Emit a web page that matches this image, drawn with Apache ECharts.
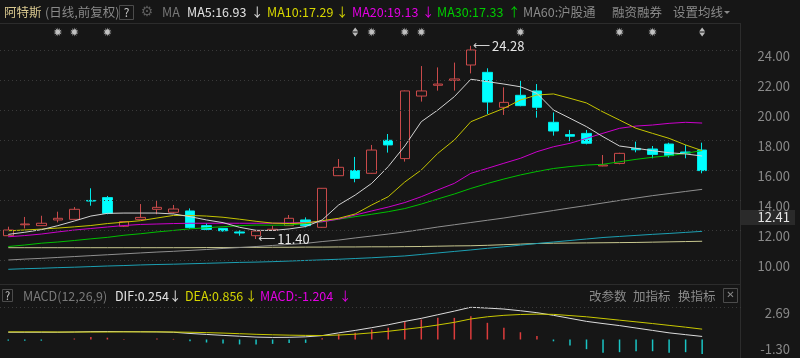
<!DOCTYPE html>
<html>
<head>
<meta charset="utf-8">
<script src="https://cdn.jsdelivr.net/npm/echarts@6/dist/echarts.min.js"></script>
<style>
html,body{margin:0;padding:0;background:#161616;}
#c{width:800px;height:358px;}
</style>
</head>
<body>
<div id="c"></div>
<script>
// ---------- data ----------
const days = ['1','2','3','4','5','6','7','8','9','10','11','12','13','14','15','16','17','18','19','20',
  '21','22','23','24','25','26','27','28','29','30','31','32','33','34','35','36','37','38','39','40',
  '41','42','43','44','45'];

// [open, close, low, high]
const candles = [
  [11.62,12.00,11.58,12.22],[12.35,12.40,12.10,12.87],[12.29,12.45,12.27,12.95],[12.67,12.78,12.51,13.22],
  [12.71,13.38,12.68,13.53],[13.97,13.93,13.62,14.78],[14.16,13.11,13.05,14.27],[12.25,12.56,12.20,12.58],
  [12.71,12.84,12.69,13.73],[13.38,13.51,13.05,14.00],[13.18,13.40,13.10,13.67],[13.27,12.16,12.07,13.44],
  [12.29,12.04,11.98,12.44],[12.11,11.95,11.89,12.13],[11.87,11.80,11.62,11.98],[11.62,11.93,11.40,11.95],
  [11.97,12.05,11.93,12.29],[12.29,12.78,12.27,13.00],[12.67,12.29,12.18,12.84],[12.18,14.78,12.15,14.80],
  [15.62,16.18,15.60,16.73],[15.96,15.44,15.18,16.87],[15.78,17.33,15.75,17.67],[17.98,17.67,17.16,18.40],
  [16.76,21.27,16.56,21.30],[20.93,21.27,20.56,22.93],[21.65,21.73,21.29,22.84],[21.98,22.07,21.29,23.16],
  [23.00,24.00,22.44,24.28],[22.51,20.53,19.73,22.78],[20.18,20.51,19.67,21.51],[20.98,20.29,20.25,22.00],
  [21.27,20.18,19.49,21.73],[19.18,18.60,18.29,19.84],[18.36,18.25,17.93,18.67],[18.44,17.78,17.71,18.67],
  [16.27,16.33,16.25,17.00],[16.44,17.11,16.38,17.15],[17.44,17.35,17.18,17.89],[17.40,17.04,16.78,17.60],
  [17.73,16.96,16.84,17.82],[17.20,17.13,16.78,17.67],[17.33,15.96,15.78,17.82]
];

const ma5 = [11.71,11.85,12.02,12.29,12.60,12.93,13.11,13.13,13.13,13.13,13.07,12.89,12.67,12.49,12.18,11.98,
  11.97,12.07,12.23,12.67,13.67,14.33,15.11,16.23,17.60,19.22,20.00,20.89,22.05,21.89,21.73,21.55,21.11,20.00,
  19.45,18.89,18.22,17.60,17.45,17.29,17.15,17.07,16.93];
const ma10 = [11.95,12.00,12.06,12.13,12.21,12.30,12.43,12.52,12.62,12.80,12.97,12.97,12.93,12.85,12.72,12.58,
  12.46,12.43,12.47,12.62,12.78,13.07,13.67,14.22,15.20,16.00,17.11,18.00,19.22,19.67,20.11,20.67,21.00,21.07,
  20.78,20.47,19.87,19.33,18.78,18.44,18.11,17.67,17.29];
const ma20 = [11.55,11.63,11.73,11.87,12.00,12.10,12.20,12.30,12.37,12.40,12.43,12.45,12.45,12.45,12.45,12.45,
  12.45,12.47,12.50,12.55,12.73,13.00,13.27,13.53,13.83,14.22,14.67,15.11,15.78,16.11,16.45,16.78,17.22,17.55,
  17.78,18.11,18.45,18.78,18.93,19.00,19.11,19.18,19.13];
const ma30 = [10.90,11.00,11.12,11.20,11.30,11.41,11.51,11.65,11.75,11.87,11.97,12.08,12.15,12.22,12.29,12.33,
  12.32,12.33,12.43,12.55,12.72,12.89,13.05,13.22,13.43,13.73,14.07,14.40,14.77,15.10,15.40,15.67,15.90,16.10,
  16.23,16.33,16.38,16.55,16.71,16.85,16.95,17.11,17.30];
const ma60 = [10.00,10.06,10.11,10.17,10.23,10.29,10.35,10.41,10.47,10.53,10.58,10.64,10.70,10.77,10.83,10.90,
  10.97,11.04,11.11,11.23,11.33,11.47,11.60,11.73,11.87,12.03,12.20,12.35,12.50,12.65,12.80,12.97,13.13,13.30,
  13.47,13.63,13.80,13.97,14.13,14.29,14.43,14.57,14.71];
const ma120 = [9.38,9.42,9.45,9.49,9.52,9.56,9.60,9.63,9.67,9.70,9.72,9.75,9.78,9.81,9.84,9.86,9.89,9.93,9.97,
  10.01,10.05,10.10,10.15,10.21,10.27,10.37,10.47,10.57,10.67,10.78,10.88,10.99,11.10,11.20,11.30,11.40,11.50,
  11.57,11.64,11.71,11.77,11.84,11.91];
const ma250 = [10.82,10.82,10.82,10.82,10.82,10.82,10.82,10.82,10.82,10.82,10.82,10.82,10.83,10.83,10.84,10.84,
  10.85,10.85,10.86,10.86,10.87,10.87,10.88,10.88,10.89,10.90,10.92,10.94,10.95,10.98,11.02,11.06,11.10,11.12,
  11.13,11.14,11.15,11.16,11.17,11.19,11.21,11.23,11.25];

const dif = [0.60,0.60,0.60,0.60,0.62,0.65,0.66,0.65,0.64,0.63,0.60,0.50,0.42,0.34,0.27,0.20,0.17,0.18,0.22,0.32,
  0.55,0.75,0.98,1.22,1.50,1.75,2.05,2.35,2.67,2.60,2.52,2.38,2.22,2.00,1.75,1.50,1.32,1.15,0.95,0.75,0.55,0.40,0.254];
const dea = [0.63,0.63,0.63,0.62,0.62,0.62,0.62,0.63,0.63,0.63,0.62,0.60,0.57,0.53,0.48,0.43,0.39,0.36,0.34,0.33,
  0.37,0.44,0.55,0.68,0.84,1.00,1.20,1.42,1.70,1.88,2.00,2.07,2.10,2.08,1.98,1.88,1.74,1.60,1.46,1.32,1.17,1.02,0.856];
const macd = [-0.10,-0.10,-0.10,0.00,0.08,0.20,0.15,0.05,0.00,0.08,0.05,-0.15,-0.25,-0.33,-0.41,-0.41,-0.36,-0.28,
  -0.28,0.10,0.45,0.55,0.83,0.97,1.50,1.66,1.79,1.79,1.93,1.38,0.97,0.60,0.28,-0.15,-0.50,-0.80,-1.10,-1.05,-0.97,
  -0.97,-1.10,-1.05,-1.204];

const priceTicks = [10, 12, 14, 16, 18, 20, 22, 24];
const macdTicks = [2.69, -1.30];
const starDays = [3, 4, 6, 22, 24, 25, 31, 37, 39];
const arrowDays = [21, 42];
const cursorLabel = '12.41';

const headerParts = [
  ['阿特斯', 4, '#d8c78e'],
  ['(日线,前复权)', 45, '#8a8a8a'],
  ['MA', 162, '#767676'],
  ['MA5:16.93', 187, '#e2e2e2'], ['↓', 251, '#e2e2e2'],
  ['MA10:17.29', 267, '#d6d600'], ['↓', 336, '#d6d600'],
  ['MA20:19.13', 352, '#e200e2'], ['↓', 422, '#e200e2'],
  ['MA30:17.33', 437, '#00cc00'], ['↑', 508, '#00cc00'],
  ['MA60:沪股通', 523, '#8a8a8a'],
  ['融资融券', 612, '#8a8a8a'],
  ['设置均线', 673, '#8a8a8a']
];
const macdHeaderParts = [
  ['MACD(12,26,9)', 23, '#7a7a7a'],
  ['DIF:0.254', 115, '#e2e2e2'], ['↓', 169, '#e2e2e2'],
  ['DEA:0.856', 185, '#d6d600'], ['↓', 245, '#d6d600'],
  ['MACD:-1.204', 260, '#e200e2'], ['↓', 339, '#e200e2'],
  ['改参数', 589, '#8a8a8a'], ['加指标', 633, '#8a8a8a'], ['换指标', 678, '#8a8a8a']
];

// ---------- styling helpers ----------
const FONT = '"Noto Sans CJK SC", "Noto Sans", sans-serif';
const markerLevel = 25.2;

function starPath() {
  let d = '';
  for (let k = 0; k < 24; k++) {
    const a = k * Math.PI / 12;
    const r = (k % 2 === 0) ? 10 : 4.8;
    const x = (10 + r * Math.cos(a)).toFixed(2), y = (10 + r * Math.sin(a)).toFixed(2);
    d += (k === 0 ? 'M' : 'L') + x + ',' + y + ' ';
  }
  return 'path://' + d + 'Z';
}
const dblArrow = 'path://M5,0 L9,4.5 L1,4.5 Z M1,5.5 L9,5.5 L5,10 Z';

let hiIdx = 0, loIdx = 0;
candles.forEach((c, i) => {
  if (c[3] > candles[hiIdx][3]) hiIdx = i;
  if (c[2] < candles[loIdx][2]) loIdx = i;
});

function textEl(parts, y, size) {
  return parts.map(p => ({
    type: 'text', x: p[1], y: y, silent: true,
    style: { text: p[0], fill: p[2], font: size + 'px ' + FONT, verticalAlign: 'middle', align: 'left' }
  }));
}

function maLine(name, data, color) {
  return {
    name: name, type: 'line', data: data, xAxisIndex: 0, yAxisIndex: 0,
    showSymbol: false, smooth: false, z: 3, silent: true,
    lineStyle: { color: color, width: 1 }
  };
}

const gridLineStyle = { color: '#3a3a3a', width: 1, type: [1, 3] };
const hiddenX = (gi) => ({
  type: 'category', data: days, gridIndex: gi, boundaryGap: true,
  axisLine: { show: false }, axisTick: { show: false }, axisLabel: { show: false }, splitLine: { show: false }
});

const option = {
  backgroundColor: '#161616',
  animation: false,
  grid: [
    { left: -1.3, top: 23, width: 744.75, height: 260 },
    { left: -1.3, top: 307, width: 744.75, height: 48.2 }
  ],
  xAxis: [hiddenX(0), hiddenX(1)],
  yAxis: [
    {
      type: 'value', gridIndex: 0, min: 8.4667, max: 25.8, position: 'right',
      axisLine: { show: false }, axisTick: { show: false }, splitLine: { show: false },
      axisLabel: {
        customValues: priceTicks, formatter: v => v.toFixed(2),
        color: '#8a8a8a', fontSize: 13, fontFamily: FONT,
        align: 'right', verticalAlign: 'top', margin: 46.5
      }
    },
    {
      type: 'value', gridIndex: 1, min: -1.30, max: 2.69, position: 'right',
      axisLine: { show: false }, axisTick: { show: false }, splitLine: { show: false },
      axisLabel: {
        customValues: macdTicks,
        formatter: v => (v > 0 ? '{t|' : '{b|') + v.toFixed(2) + '}',
        color: '#8a8a8a', fontSize: 13, fontFamily: FONT,
        align: 'right', verticalAlign: 'middle', margin: 46.5,
        rich: {
          t: { color: '#8a8a8a', fontSize: 13, fontFamily: FONT, padding: [12, 0, 0, 0] },
          b: { color: '#8a8a8a', fontSize: 13, fontFamily: FONT, padding: [0, 0, 12, 0] }
        }
      }
    }
  ],
  series: [
    {
      name: 'K', type: 'candlestick', data: candles, xAxisIndex: 0, yAxisIndex: 0,
      barWidth: 10, z: 2, silent: true,
      itemStyle: {
        color: 'rgba(0,0,0,0)', color0: '#00ffff',
        borderColor: '#c94a4a', borderColor0: '#00e8e8', borderWidth: 1
      },
      markLine: {
        silent: true, symbol: ['none', 'none'], label: { show: false },
        lineStyle: gridLineStyle,
        data: priceTicks.map(v => ({ yAxis: v }))
      },
      markPoint: {
        silent: true, symbol: 'circle', symbolSize: 0,
        itemStyle: { color: 'rgba(0,0,0,0)' },
        label: {
          show: true, position: 'right', distance: 2,
          formatter: p => '{a|⟵}{t|' + p.value.toFixed(2) + '}',
          rich: {
            a: { fontFamily: 'DejaVu Sans', fontSize: 12, color: '#d0d0d0', padding: [0, 2, 0, 0] },
            t: { fontFamily: FONT, fontSize: 13, color: '#e6e6e6' }
          }
        },
        data: [
          { coord: [hiIdx, candles[hiIdx][3]], value: candles[hiIdx][3] },
          { coord: [loIdx, candles[loIdx][2]], value: candles[loIdx][2] }
        ]
      }
    },
    maLine('MA250', ma250, '#c8c890'),
    maLine('MA120', ma120, '#1c9fb2'),
    maLine('MA60', ma60, '#8e8e8e'),
    maLine('MA30', ma30, '#00c000'),
    maLine('MA20', ma20, '#cc00cc'),
    maLine('MA10', ma10, '#c4c400'),
    maLine('MA5', ma5, '#d2d2d2'),
    {
      name: 'stars', type: 'scatter', xAxisIndex: 0, yAxisIndex: 0, silent: true,
      data: starDays.map(d => [d, markerLevel]),
      symbol: starPath(), symbolSize: 9, itemStyle: { color: '#ececec' }, z: 4
    },
    {
      name: 'flags', type: 'scatter', xAxisIndex: 0, yAxisIndex: 0, silent: true,
      data: arrowDays.map(d => [d, markerLevel]),
      symbol: dblArrow, symbolSize: [6, 9], itemStyle: { color: '#e4e4e4' }, z: 4
    },
    {
      name: 'MACD', type: 'bar', data: macd, xAxisIndex: 1, yAxisIndex: 1, barWidth: 1.5, silent: true,
      itemStyle: { color: p => p.value >= 0 ? '#dc3c3c' : '#1ac4c4' }
    },
    {
      name: 'DIF', type: 'line', data: dif, xAxisIndex: 1, yAxisIndex: 1, showSymbol: false, silent: true,
      lineStyle: { color: '#dcdcdc', width: 1 }, z: 3,
      markLine: {
        silent: true, symbol: ['none', 'none'], label: { show: false },
        lineStyle: gridLineStyle, data: [{ yAxis: macdTicks[0] }]
      }
    },
    {
      name: 'DEA', type: 'line', data: dea, xAxisIndex: 1, yAxisIndex: 1, showSymbol: false, silent: true,
      lineStyle: { color: '#c8c800', width: 1 }, z: 3
    }
  ],
  graphic: [
    { type: 'line', silent: true, shape: { x1: 0, y1: 23.5, x2: 740, y2: 23.5 }, style: { stroke: '#2c2c2c', lineWidth: 1 } },
    { type: 'line', silent: true, shape: { x1: 0, y1: 284.5, x2: 740, y2: 284.5 }, style: { stroke: '#2c2c2c', lineWidth: 1 } },
    { type: 'line', silent: true, shape: { x1: 740.5, y1: 23, x2: 740.5, y2: 358 }, style: { stroke: '#2c2c2c', lineWidth: 1 } },
    { type: 'rect', silent: true, shape: { x: 741, y: 210, width: 54, height: 15 }, style: { fill: '#2a2a2a' } },
    { type: 'text', silent: true, x: 790, y: 217.5,
      style: { text: cursorLabel, fill: '#e6e6e6', font: '13px ' + FONT, align: 'right', verticalAlign: 'middle' } },
    // header widgets
    { type: 'rect', silent: true, shape: { x: 119.5, y: 5.5, width: 14, height: 14 }, style: { fill: 'none', stroke: '#4c4c4c', lineWidth: 1 } },
    { type: 'text', silent: true, x: 126.5, y: 12.5, style: { text: '?', fill: '#c8c8c8', font: '12px ' + FONT, align: 'center', verticalAlign: 'middle' } },
    { type: 'text', silent: true, x: 147, y: 12.5, style: { text: '⚙', fill: '#5c5c5c', font: '14px "DejaVu Sans"', align: 'center', verticalAlign: 'middle' } },
    { type: 'polygon', silent: true, shape: { points: [[724, 11], [730, 11], [727, 14]] }, style: { fill: '#8a8a8a' } },
    // MACD header widgets
    { type: 'rect', silent: true, shape: { x: 2.5, y: 289.5, width: 10, height: 12 }, style: { fill: 'none', stroke: '#4c4c4c', lineWidth: 1 } },
    { type: 'text', silent: true, x: 7.5, y: 295.5, style: { text: '?', fill: '#c8c8c8', font: '11px ' + FONT, align: 'center', verticalAlign: 'middle' } },
    { type: 'rect', silent: true, shape: { x: 723.5, y: 288.5, width: 14, height: 14 }, style: { fill: 'none', stroke: '#4c4c4c', lineWidth: 1 } },
    { type: 'text', silent: true, x: 730.5, y: 295.5, style: { text: '✕', fill: '#8a8a8a', font: '10px "DejaVu Sans"', align: 'center', verticalAlign: 'middle' } }
  ].concat(textEl(headerParts, 12.5, 12.5)).concat(textEl(macdHeaderParts, 296, 12.5))
};

const chart = echarts.init(document.getElementById('c'), null, { renderer: 'canvas' });
chart.setOption(option);
</script>
</body>
</html>
